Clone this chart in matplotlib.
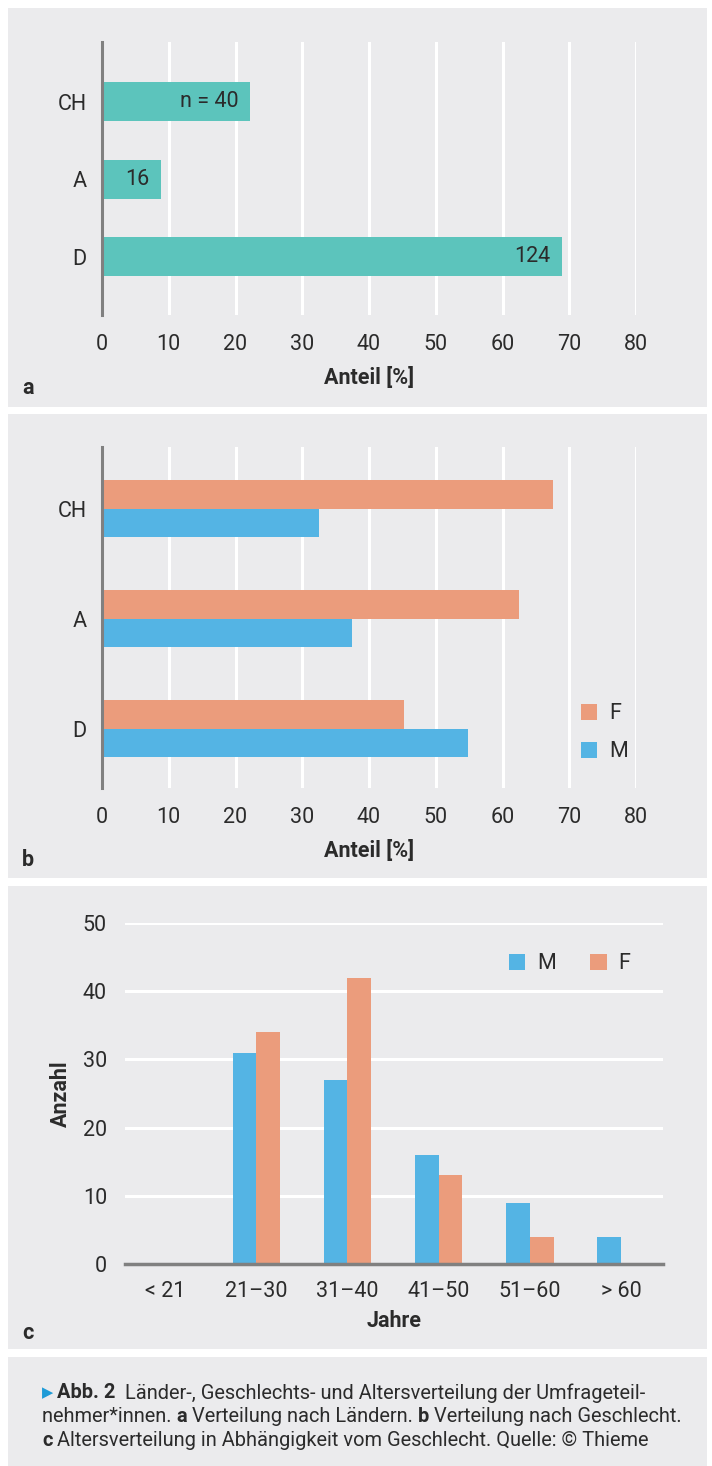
import matplotlib
matplotlib.use("Agg")
import matplotlib.pyplot as plt
from matplotlib.patches import Rectangle, Patch

# ---------------- data ----------------
countries = ["D", "A", "CH"]
country_share = [68.9, 8.9, 22.2]          # Anteil [%]
country_labels = ["124", "16", "n = 40"]

gender_F = [45.2, 62.5, 67.5]              # D, A, CH
gender_M = [54.8, 37.5, 32.5]

age_groups = ["< 21", "21–30", "31–40", "41–50", "51–60", "> 60"]
age_M = [0, 31, 27, 16, 9, 4]
age_F = [0, 34, 42, 13, 4, 0]

x_ticks_pct = [0, 10, 20, 30, 40, 50, 60, 70, 80]
y_ticks_cnt = [0, 10, 20, 30, 40, 50]

# ---------------- style ----------------
FONT = ["Roboto", "DejaVu Sans"]
plt.rcParams["font.family"] = FONT
TEAL = "#5CC4BC"
ORANGE = "#EB9C7C"
BLUE = "#54B4E4"
BG = "#EBEBED"
AXIS = "#808080"
TXT = "#2B2B2B"
FS = 15.5

W, H = 712, 1466
fig = plt.figure(figsize=(W / 100, H / 100), dpi=100)
fig.patch.set_facecolor("white")


def rect(x0, y0, x1, y1):
    return [x0 / W, 1 - y1 / H, (x1 - x0) / W, (y1 - y0) / H]


def bg(x0, y0, x1, y1):
    fig.add_artist(Rectangle((x0 / W, 1 - y1 / H), (x1 - x0) / W, (y1 - y0) / H,
                             transform=fig.transFigure, facecolor=BG,
                             edgecolor="none", zorder=-10))


def fx(x):
    return x / W


def fy(y):
    return 1 - y / H


# panel backgrounds
bg(8, 8, 707, 407)
bg(8, 414, 707, 878)
bg(8, 886, 707, 1349)
bg(8, 1357, 707, 1466)


def style_hbar_axes(ax):
    ax.set_facecolor("none")
    for s in ["top", "right", "bottom"]:
        ax.spines[s].set_visible(False)
    ax.spines["left"].set_color(AXIS)
    ax.spines["left"].set_linewidth(2.2)
    ax.spines["left"].set_zorder(5)
    ax.set_xlim(0, 80)
    ax.set_xticks(x_ticks_pct)
    ax.xaxis.grid(True, color="white", linewidth=2.2)
    ax.set_axisbelow(True)
    ax.tick_params(length=0, labelsize=FS, colors=TXT, pad=14)
    ax.tick_params(axis="y", pad=11)
    ax.set_xlabel("Anteil [%]", fontsize=FS, fontweight="bold", color=TXT, labelpad=8)


# ---------------- panel a ----------------
axa = fig.add_axes(rect(102, 42, 636, 315))
style_hbar_axes(axa)
ypos = list(range(len(countries)))
bars = axa.barh(ypos, country_share, height=0.5, color=TEAL, zorder=3)
axa.set_yticks(ypos)
axa.set_yticklabels(countries)
axa.set_ylim(-0.75, 2.77)
for b, lab in zip(bars, country_labels):
    axa.annotate(lab, (b.get_width(), b.get_y() + b.get_height() / 2),
                 xytext=(-8.5, 0), textcoords="offset points",
                 ha="right", va="center", fontsize=FS, color=TXT, zorder=6)
fig.text(fx(22), fy(388), "a", fontsize=FS, fontweight="bold", color=TXT, va="center")

# ---------------- panel b ----------------
axb = fig.add_axes(rect(102, 447, 636, 788))
style_hbar_axes(axb)
bh = 0.26
yb = list(range(len(countries)))
axb.barh([y + bh / 2 for y in yb], gender_F, height=bh, color=ORANGE, zorder=3, label="F")
axb.barh([y - bh / 2 for y in yb], gender_M, height=bh, color=BLUE, zorder=3, label="M")
axb.set_yticks(yb)
axb.set_yticklabels(countries)
axb.set_ylim(-0.54, 2.56)
handles_b = [Patch(facecolor=ORANGE, label="F"), Patch(facecolor=BLUE, label="M")]
axb.legend(handles=handles_b, loc="upper left", bbox_to_anchor=(fx(564), fy(686)),
           bbox_transform=fig.transFigure, frameon=False, fontsize=FS,
           handlelength=0.75, handleheight=0.75, handletextpad=0.55,
           labelspacing=0.8, borderpad=0.3, labelcolor=TXT)
fig.text(fx(22), fy(860), "b", fontsize=FS, fontweight="bold", color=TXT, va="center")

# ---------------- panel c ----------------
axc = fig.add_axes(rect(125, 923, 663, 1264))
axc.set_facecolor("none")
for s in ["top", "right", "left"]:
    axc.spines[s].set_visible(False)
axc.spines["bottom"].set_color(AXIS)
axc.spines["bottom"].set_linewidth(2.5)
axc.spines["bottom"].set_zorder(5)
xc = list(range(len(age_groups)))
bw = 0.26
axc.bar([x - bw / 2 for x in xc], age_M, width=bw, color=BLUE, zorder=3, label="M")
axc.bar([x + bw / 2 for x in xc], age_F, width=bw, color=ORANGE, zorder=3, label="F")
axc.set_xticks(xc)
axc.set_xticklabels(age_groups)
axc.set_xlim(-0.44, 5.46)
axc.set_ylim(0, 50)
axc.set_yticks(y_ticks_cnt)
axc.yaxis.grid(True, color="white", linewidth=2.2)
axc.set_axisbelow(True)
axc.tick_params(length=0, labelsize=FS, colors=TXT)
axc.tick_params(axis="y", pad=13)
axc.tick_params(axis="x", pad=12)
axc.set_xlabel("Jahre", fontsize=FS, fontweight="bold", color=TXT, labelpad=6)
axc.set_ylabel("Anzahl", fontsize=FS, fontweight="bold", color=TXT, labelpad=8)
handles_c = [Patch(facecolor=BLUE, label="M"), Patch(facecolor=ORANGE, label="F")]
axc.legend(handles=handles_c, loc="upper left", bbox_to_anchor=(fx(492), fy(936)),
           bbox_transform=fig.transFigure, frameon=False, fontsize=FS, ncol=2,
           handlelength=0.75, handleheight=0.75, handletextpad=0.55,
           columnspacing=1.6, borderpad=0.3, labelcolor=TXT)
fig.text(fx(22), fy(1333), "c", fontsize=FS, fontweight="bold", color=TXT, va="center")

# ---------------- caption ----------------
cfs = 14.4
renderer = fig.canvas.get_renderer()


def rich_line(x_px, y_px, pieces):
    x = x_px
    for txt, weight, color, size, fam in pieces:
        kw = dict(fontsize=size, fontweight=weight, color=color, va="center")
        if fam:
            kw["family"] = fam
        t = fig.text(fx(x), fy(y_px), txt, **kw)
        bb = t.get_window_extent(renderer=renderer)
        x += bb.width


fig.text(fx(42), fy(1393), "▶", fontsize=10.5, color="#1E9BD7", va="center",
         family=["DejaVu Sans"])
rich_line(57, 1393, [
    ("Abb. 2", "bold", TXT, cfs, None),
    ("  Länder-, Geschlechts- und Altersverteilung der Umfrageteil-", "normal", TXT, cfs, None),
])
rich_line(42, 1417, [
    ("nehmer*innen. ", "normal", TXT, cfs, None),
    ("a", "bold", TXT, cfs, None),
    (" Verteilung nach Ländern. ", "normal", TXT, cfs, None),
    ("b", "bold", TXT, cfs, None),
    (" Verteilung nach Geschlecht.", "normal", TXT, cfs, None),
])
rich_line(42, 1440, [
    ("c", "bold", TXT, cfs, None),
    (" Altersverteilung in Abhängigkeit vom Geschlecht. Quelle: © Thieme", "normal", TXT, cfs, None),
])

fig.savefig("out.png", dpi=100)
